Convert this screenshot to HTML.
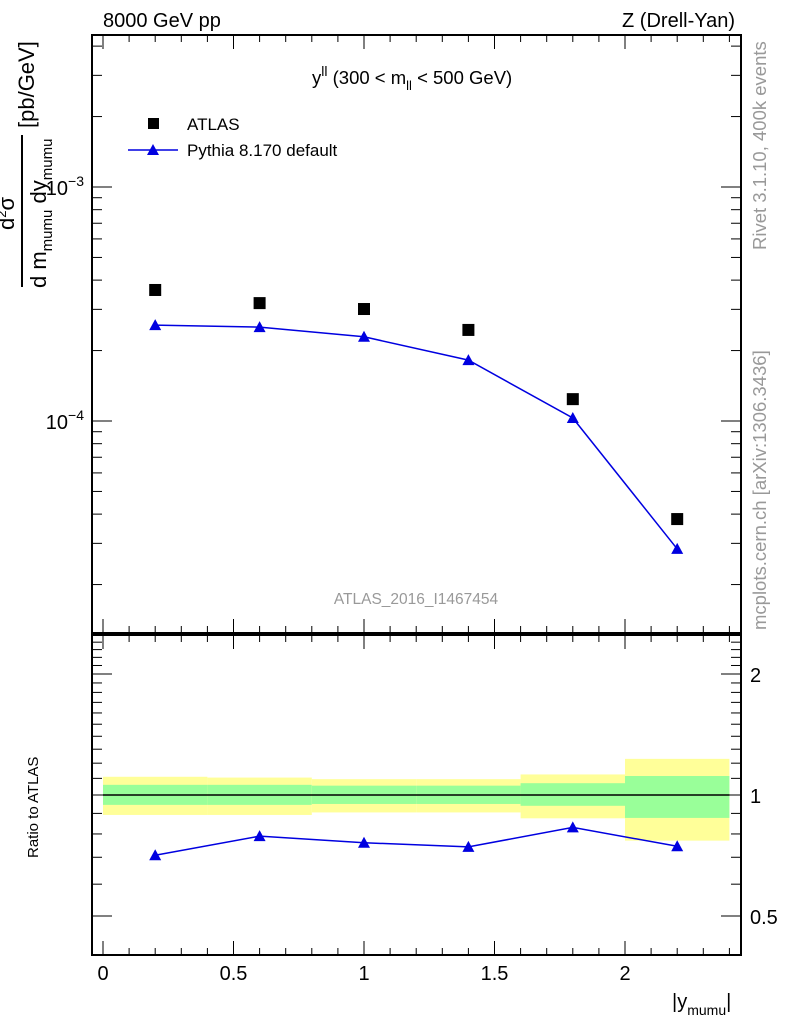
<!DOCTYPE html>
<html><head><meta charset="utf-8"><style>
body{margin:0;background:#fff;}
svg text{font-family:"Liberation Sans",sans-serif;}
</style></head><body>
<svg id="c" width="786" height="1024" xmlns="http://www.w3.org/2000/svg"></svg>
<script>
const xCenters=[0.2,0.6,1.0,1.4,1.8,2.2];
const binEdges=[0,0.4,0.8,1.2,1.6,2.0,2.4];
const atlas=[3.63e-4,3.19e-4,3.01e-4,2.45e-4,1.24e-4,3.81e-5];
const pythia=[2.57e-4,2.52e-4,2.29e-4,1.82e-4,1.03e-4,2.84e-5];
const totErrUp=[1.11,1.105,1.095,1.095,1.125,1.23];
const totErrDn=[0.892,0.892,0.905,0.905,0.875,0.77];
const statErrUp=[1.06,1.06,1.055,1.055,1.07,1.115];
const statErrDn=[0.945,0.945,0.95,0.95,0.94,0.877];
const xTicks=[0,0.5,1,1.5,2];
const xTickLabels=["0","0.5","1","1.5","2"];
const ratioTicks=[0.5,1,2];
const ratioTickLabels=["0.5","1","2"];

const NS="http://www.w3.org/2000/svg";
const svg=document.getElementById('c');
function el(t,a,p){const e=document.createElementNS(NS,t);for(const k in a)e.setAttribute(k,a[k]);(p||svg).appendChild(e);return e;}
const L=92,R=741,T=35,MB=633,RT=635,RB=955;
const X=v=>103+v*261;
const Y=v=>187-(Math.log10(v)+3)*234;
const YR=v=>795-Math.log2(v)*121;

for(let i=0;i<atlas.length;i++){
 const b=el('rect',{x:X(binEdges[i]),y:YR(totErrUp[i]),width:X(binEdges[i+1])-X(binEdges[i]),height:YR(totErrDn[i])-YR(totErrUp[i]),fill:'#ffff99'});
 
 
 const g=el('rect',{x:X(binEdges[i]),y:YR(statErrUp[i]),width:X(binEdges[i+1])-X(binEdges[i]),height:YR(statErrDn[i])-YR(statErrUp[i]),fill:'#99ff99'});
 
 
}
el('line',{x1:X(0),x2:X(2.4),y1:YR(1),y2:YR(1),stroke:'#000','stroke-width':1.5});

const f1=el('rect',{x:L,y:T,width:R-L,height:MB-T,fill:'none',stroke:'#000','stroke-width':2});

const f2=el('rect',{x:L,y:RT,width:R-L,height:RB-RT,fill:'none',stroke:'#000','stroke-width':2});


for(let v=0;v<=2.45;v+=0.1){
 const big=Math.abs(v*2-Math.round(v*2))<1e-6;const h=big?14:7;
 for(const [a,b] of [[T,1],[MB,-1],[RT,1],[RB,-1]]){
  el('line',{x1:X(v),x2:X(v),y1:a,y2:a+b*h,stroke:'#000','stroke-width':1});
 }
}
xTicks.forEach((v,i)=>{const t=el('text',{x:X(v),y:980,'font-size':20,'text-anchor':'middle'});t.textContent=xTickLabels[i];});

for(let d=-5;d<=-2;d++){for(let m=1;m<=9;m++){const v=m*Math.pow(10,d);const y=Y(v);if(y<T||y>MB)continue;const h=m==1?20:10;
 el('line',{x1:L,x2:L+h,y1:y,y2:y,stroke:'#000'});el('line',{x1:R,x2:R-h,y1:y,y2:y,stroke:'#000'});}}
[[-3,Y(1e-3)],[-4,Y(1e-4)]].forEach(([e,y])=>{const t=el('text',{x:84,y:y+8,'font-size':20,'text-anchor':'end'});t.innerHTML='10<tspan dy="-9" font-size="14">'+(e==-3?'−3':'−4')+'</tspan>';});

for(let v=0.4;v<=2.5;v+=0.1){const y=YR(v);if(y<RT||y>RB)continue;const big=[0.5,1,2].some(q=>Math.abs(q-v)<1e-6);const h=big?20:10;
 el('line',{x1:L,x2:L+h,y1:y,y2:y,stroke:'#000'});el('line',{x1:R,x2:R-h,y1:y,y2:y,stroke:'#000'});}
ratioTicks.forEach((v,i)=>{const t=el('text',{x:750,y:YR(v)+8,'font-size':20});t.textContent=ratioTickLabels[i];});

const pl=el('polyline',{points:xCenters.map((x,i)=>X(x)+','+Y(pythia[i])).join(' '),fill:'none',stroke:'#0000e0','stroke-width':1.5});

const tri=(x,y)=>`${x-6},${y+5} ${x+6},${y+5} ${x},${y-6}`;
xCenters.forEach((x,i)=>{
 const s=el('rect',{x:X(x)-6,y:Y(atlas[i])-6,width:12,height:12,fill:'#000'});
 
 const p=el('polygon',{points:tri(X(x),Y(pythia[i])),fill:'#0000e0'});
 
});
const rv=xCenters.map((x,i)=>pythia[i]/atlas[i]);
const rl=el('polyline',{points:xCenters.map((x,i)=>X(x)+','+YR(rv[i])).join(' '),fill:'none',stroke:'#0000e0','stroke-width':1.5});

xCenters.forEach((x,i)=>{const p=el('polygon',{points:tri(X(x),YR(rv[i])),fill:'#0000e0'});});

const ls=el('rect',{x:148,y:118,width:11,height:11,fill:'#000'});
el('line',{x1:128,x2:178,y1:150,y2:150,stroke:'#0000e0','stroke-width':1.5});
el('polygon',{points:tri(153,150),fill:'#0000e0'});
function txt(s,a,name){const t=el('text',a);t.innerHTML=s;return t;}
txt('ATLAS',{x:187,y:130,'font-size':17},'legend-atlas');
txt('Pythia 8.170 default',{x:187,y:156,'font-size':17},'legend-pythia');
txt('y<tspan dy="-8" font-size="14">ll</tspan><tspan dy="8"> (300 &lt; m</tspan><tspan dy="6" font-size="13">ll</tspan><tspan dy="-6"> &lt; 500 GeV)</tspan>',{x:312,y:84,'font-size':18.5},'plot-title');
txt('8000 GeV pp',{x:103,y:27,'font-size':20},'energy-label');
txt('Z (Drell-Yan)',{x:735,y:27,'font-size':20,'text-anchor':'end'},'process-label');
txt('ATLAS_2016_I1467454',{x:416,y:604,'font-size':15.5,fill:'#999','text-anchor':'middle'},'analysis-id');
txt('Rivet 3.1.10,  400k events',{x:0,y:0,'font-size':18.5,fill:'#999','transform':'translate(766,250) rotate(-90)'},'rivet-label');
txt('mcplots.cern.ch [arXiv:1306.3436]',{x:0,y:0,'font-size':18.5,fill:'#999','transform':'translate(766,630) rotate(-90)'},'mcplots-label');
txt('Ratio to ATLAS',{x:0,y:0,'font-size':15,'transform':'translate(38,858) rotate(-90)'},'ratio-y-title');
txt('|y<tspan dy="7" font-size="14">mumu</tspan><tspan dy="-7">|</tspan>',{x:672,y:1008,'font-size':20},'x-axis-title');
const g=el('g',{transform:'translate(0,0)'});
el('line',{x1:22,x2:22,y1:135,y2:287,stroke:'#000','stroke-width':2},g);
const t1=el('text',{transform:'translate(14,230) rotate(-90)','font-size':22},g);t1.innerHTML='d<tspan dy="-8" font-size="13">2</tspan><tspan dy="8">σ</tspan>';
const t2=el('text',{transform:'translate(46,288) rotate(-90)','font-size':22},g);t2.innerHTML='d m<tspan dy="6" font-size="15">mumu</tspan><tspan dy="-6"> dy</tspan><tspan dy="6" font-size="15">mumu</tspan>';
const t3=el('text',{transform:'translate(34,128) rotate(-90)','font-size':22},g);t3.textContent='[pb/GeV]';
</script>
</body></html>
